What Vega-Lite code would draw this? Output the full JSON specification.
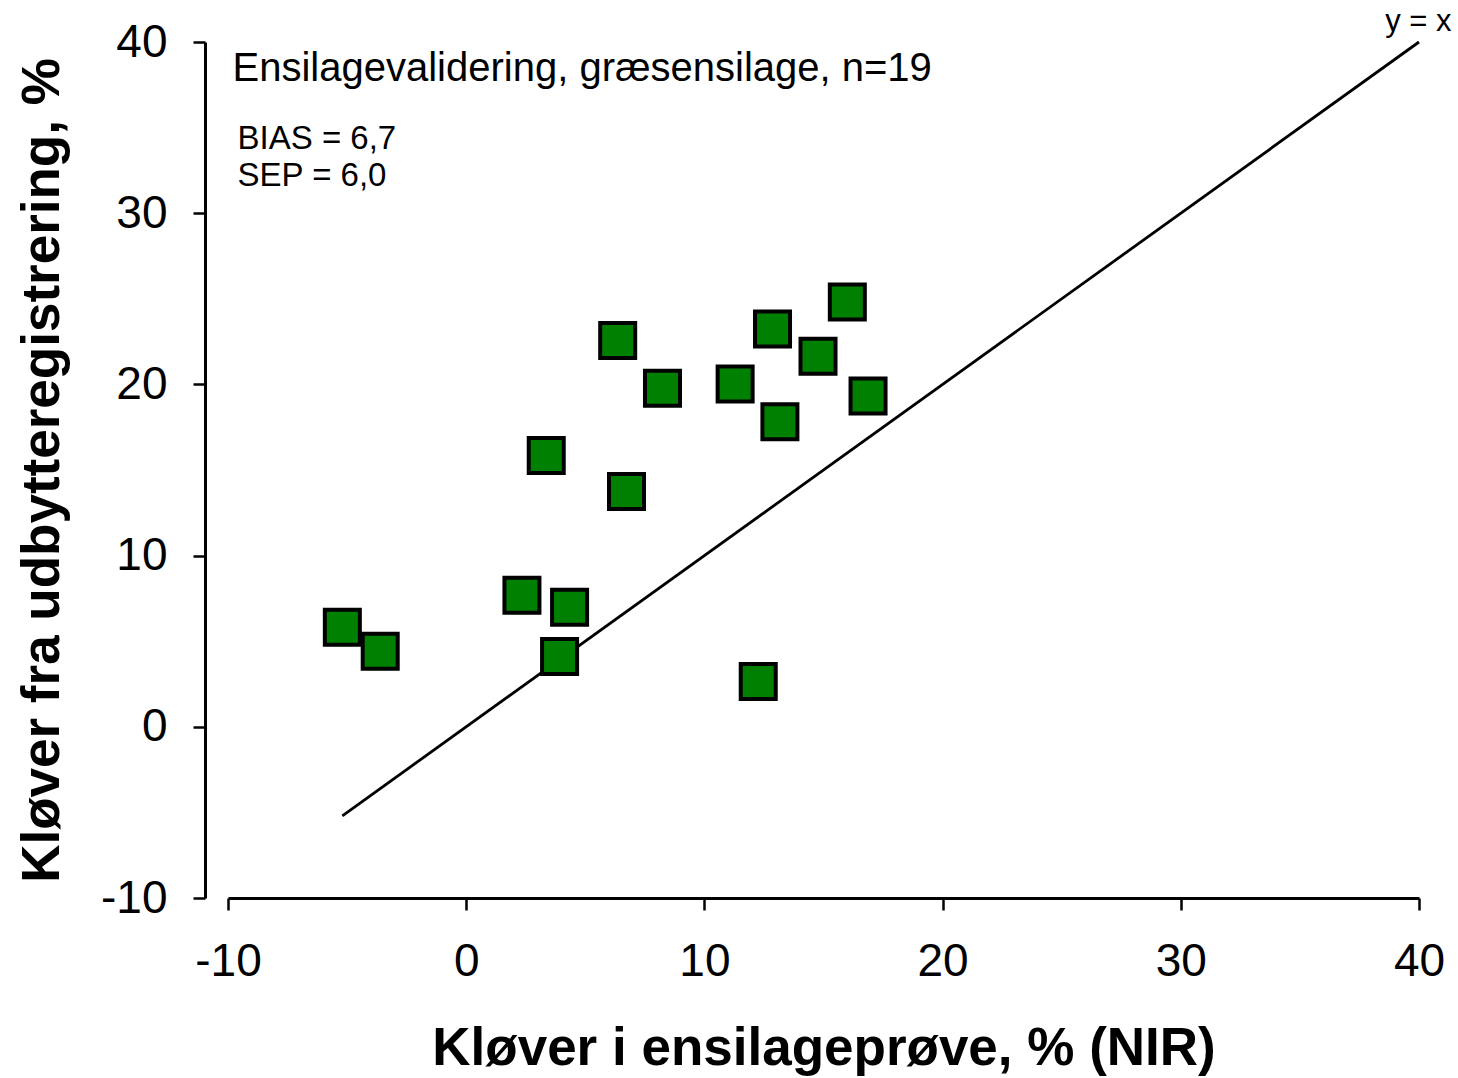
{
  "$schema": "https://vega.github.io/schema/vega-lite/v6.json",
  "width": 1191,
  "height": 856,
  "autosize": {"type": "none"},
  "padding": {"left": 228, "top": 42, "right": 39, "bottom": 180},
  "background": "white",
  "config": {
    "view": {"stroke": null},
    "font": "Liberation Sans",
    "axis": {
      "grid": false,
      "domainColor": "black",
      "domainWidth": 3,
      "tickColor": "black",
      "tickWidth": 2.5,
      "tickSize": 12,
      "labelFont": "Liberation Sans",
      "labelFontSize": 46,
      "labelColor": "black",
      "labelFlush": false,
      "labelExpr": "'' + datum.value",
      "titleFont": "Liberation Sans",
      "titleFontSize": 53,
      "titleFontWeight": "bold",
      "titleColor": "black"
    }
  },
  "datasets": {
    "samples": [
      {"nir": -5.20, "yield": 5.82},
      {"nir": -3.61, "yield": 4.41},
      {"nir": 2.34, "yield": 7.69},
      {"nir": 4.34, "yield": 6.99},
      {"nir": 3.92, "yield": 4.10},
      {"nir": 6.36, "yield": 22.57},
      {"nir": 8.24, "yield": 19.77},
      {"nir": 11.29, "yield": 20.03},
      {"nir": 12.86, "yield": 23.23},
      {"nir": 14.77, "yield": 21.65},
      {"nir": 16.00, "yield": 24.81},
      {"nir": 16.87, "yield": 19.32},
      {"nir": 13.17, "yield": 17.82},
      {"nir": 3.36, "yield": 15.85},
      {"nir": 6.73, "yield": 13.74},
      {"nir": 12.26, "yield": 2.64}
    ],
    "identity": [
      {"nir": -5.2, "yield": -5.2},
      {"nir": 40, "yield": 40}
    ],
    "notes": [
      {"nir": -9.81, "yield": 38.44, "label": "Ensilagevalidering, græsensilage, n=19", "size": 40},
      {"nir": -9.6, "yield": 34.36, "label": "BIAS = 6,7", "size": 33},
      {"nir": -9.6, "yield": 32.15, "label": "SEP = 6,0", "size": 33},
      {"nir": 38.58, "yield": 41.18, "label": "y = x", "size": 31}
    ]
  },
  "layer": [
    {
      "data": {"name": "identity"},
      "mark": {"type": "line", "color": "black", "strokeWidth": 2.8, "clip": false},
      "encoding": {
        "x": {"field": "nir", "type": "quantitative",
          "scale": {"domain": [-10, 40], "nice": false, "zero": false},
          "axis": {"values": [-10, 0, 10, 20, 30, 40], "title": "Kløver i ensilageprøve, % (NIR)",
            "labelPadding": 29, "titlePadding": 38}},
        "y": {"field": "yield", "type": "quantitative",
          "scale": {"domain": [-10, 40], "nice": false, "zero": false},
          "axis": {"values": [-10, 0, 10, 20, 30, 40], "title": "Kløver fra udbytteregistrering, %",
            "offset": 23, "labelPadding": 26, "titlePadding": 31}}
      }
    },
    {
      "data": {"name": "samples"},
      "mark": {"type": "point", "shape": "square", "filled": true, "fill": "#008000", "stroke": "black", "strokeWidth": 4, "size": 1225, "opacity": 1},
      "encoding": {
        "x": {"field": "nir", "type": "quantitative"},
        "y": {"field": "yield", "type": "quantitative"}
      }
    },
    {
      "data": {"name": "notes"},
      "mark": {"type": "text", "align": "left", "baseline": "middle", "color": "black", "clip": false},
      "encoding": {
        "x": {"field": "nir", "type": "quantitative"},
        "y": {"field": "yield", "type": "quantitative"},
        "text": {"field": "label"},
        "size": {"field": "size", "type": "quantitative", "scale": null}
      }
    }
  ]
}
